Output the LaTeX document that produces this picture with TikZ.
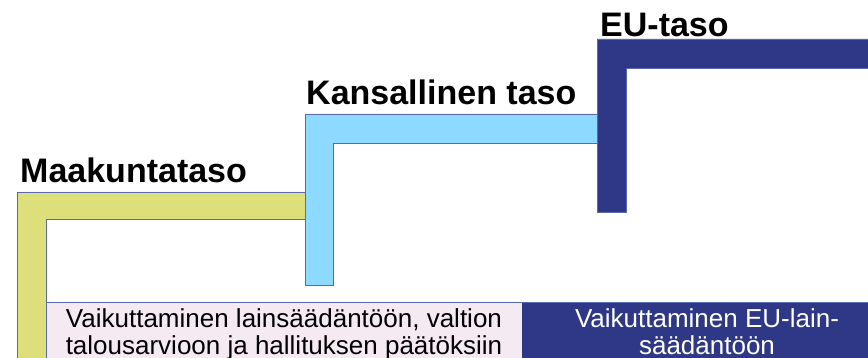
\documentclass[tikz,border=0pt]{standalone}
\usepackage{fontspec}
\setmainfont{Liberation Sans}
\usetikzlibrary{positioning}
\definecolor{maakunta}{RGB}{221,224,122}
\definecolor{kansallinen}{RGB}{141,217,255}
\definecolor{eutaso}{RGB}{46,56,134}
\definecolor{vaaleapinkki}{RGB}{246,234,242}
\definecolor{reuna}{RGB}{90,104,176}

\begin{document}
\begin{tikzpicture}[
  x=1pt, y=-1pt,
  bar/.style={draw=reuna, line width=0.8pt},
  heading/.style={inner sep=0pt, anchor=base west, font=\fontsize{34}{37}\selectfont\bfseries},
  boxtext/.style={inner sep=0pt, anchor=north, align=center, font=\fontsize{26}{27}\selectfont}
]
\useasboundingbox (0,0) rectangle (868,358);
\clip (0,0) rectangle (868,358);
% laatikot
\fill[vaaleapinkki] (46,302) rectangle (522,370);
\fill[eutaso] (522,302) rectangle (880,370);
\draw[bar] (46,370) -- (46,302) -- (880,302);
% portaat
\draw[bar, fill=maakunta] (17,370) -- (17,192) -- (320,192) -- (320,219) -- (46,219) -- (46,370) -- cycle;
\draw[bar, fill=kansallinen] (305,285) -- (305,114) -- (610,114) -- (610,143) -- (333,143) -- (333,285) -- cycle;
\draw[bar, fill=eutaso] (597,212) -- (597,39) -- (880,39) -- (880,68) -- (626,68) -- (626,212) -- cycle;
% tekstit
\node[heading] (maakunta) at (20,183) {Maakuntataso};
\node[heading] (kansallinen) at (306,105) {Kansallinen taso};
\node[heading] (eu) at (600,37) {EU-taso};
\node[boxtext] (vaikutus) at (284,308) {Vaikuttaminen lainsäädäntöön, valtion\\talousarvioon ja hallituksen päätöksiin};
\node[boxtext, text=white] (euvaikutus) at (707,308) {Vaikuttaminen EU-lain-\\säädäntöön};
\end{tikzpicture}
\end{document}
